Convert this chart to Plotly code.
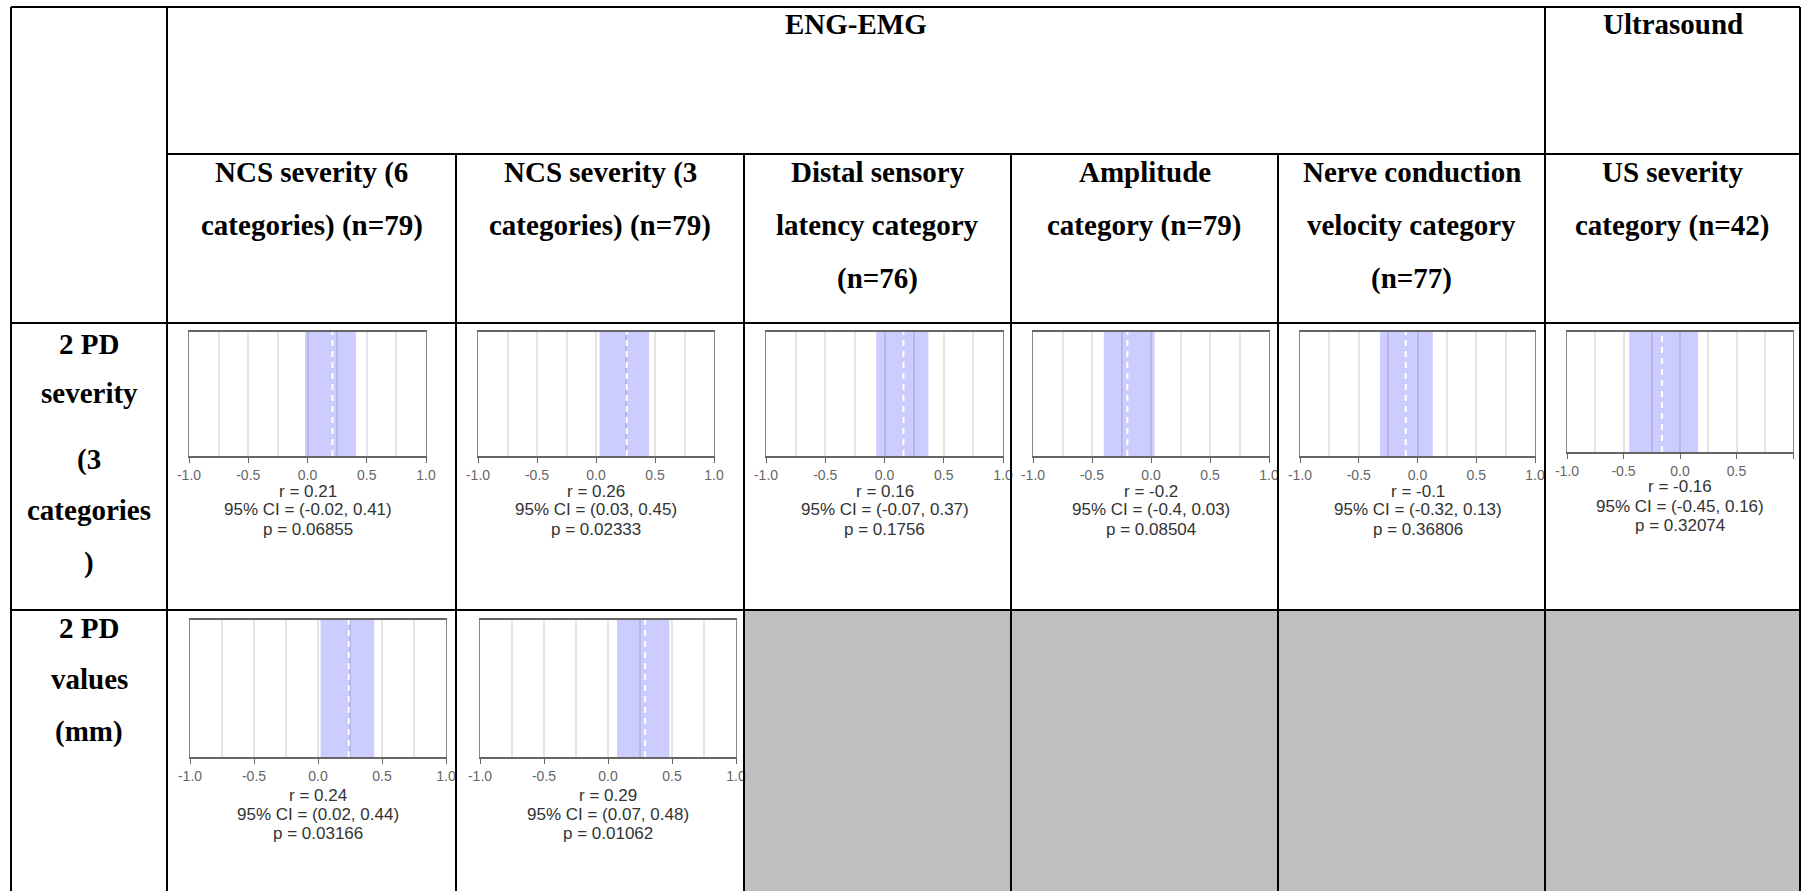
import plotly.graph_objects as go

W, H = 1802, 891

# --- data -------------------------------------------------------------
group_headers = ["ENG-EMG", "Ultrasound"]
col_headers = [
    ["NCS severity (6", "categories) (n=79)"],
    ["NCS severity (3", "categories) (n=79)"],
    ["Distal sensory", "latency category", "(n=76)"],
    ["Amplitude", "category (n=79)"],
    ["Nerve conduction", "velocity category", "(n=77)"],
    ["US severity", "category (n=42)"],
]
row_headers = [
    ["2 PD", "severity", "(3", "categories", ")"],
    ["2 PD", "values", "(mm)"],
]

# row 1: 2 PD severity vs each column
r_sev = [0.21, 0.26, 0.16, -0.2, -0.1, -0.16]
lo_sev = [-0.02, 0.03, -0.07, -0.4, -0.32, -0.45]
hi_sev = [0.41, 0.45, 0.37, 0.03, 0.13, 0.16]
p_sev = [0.06855, 0.02333, 0.1756, 0.08504, 0.36806, 0.32074]

# row 2: 2 PD values, only first two columns
r_val = [0.24, 0.29]
lo_val = [0.02, 0.07]
hi_val = [0.44, 0.48]
p_val = [0.03166, 0.01062]

tick_vals = [-1, -0.5, 0, 0.5, 1]
tick_text = ["-1.0", "-0.5", "0.0", "0.5", "1.0"]
minor_vals = [-0.75, -0.25, 0.25, 0.75]

# --- table geometry (pixels) ------------------------------------------
col_x = [11, 167, 456, 744, 1011, 1278, 1545, 1800]
row_y = [7, 154, 323, 610, 891]


def px(x):
    return x / W


def py(y):
    return 1 - y / H


# chart boxes: (x0, x1, y0, y1, text line ys)
boxes_sev = [
    (189, 426, 332, 456, [491, 510, 529]),
    (478, 714, 332, 456, [491, 510, 529]),
    (766, 1003, 332, 456, [491, 510, 529]),
    (1033, 1269, 332, 456, [491, 510, 529]),
    (1300, 1535, 332, 456, [491, 510, 529]),
    (1567, 1793, 332, 452, [487, 506, 525]),
]
boxes_val = [
    (190, 446, 620, 757, [795, 814, 833]),
    (480, 736, 620, 757, [795, 814, 833]),
]

fig = go.Figure()
annotations = []
layout_axes = {}

charts = []
for i in range(len(r_sev)):
    charts.append((boxes_sev[i], r_sev[i], lo_sev[i], hi_sev[i], p_sev[i]))
for i in range(len(r_val)):
    charts.append((boxes_val[i], r_val[i], lo_val[i], hi_val[i], p_val[i]))

for k, (box, r, lo, hi, p) in enumerate(charts, start=1):
    x0, x1, y0, y1, text_ys = box
    xa = "x" if k == 1 else f"x{k}"
    ya = "y" if k == 1 else f"y{k}"

    fig.add_trace(go.Scatter(
        x=[lo, hi, hi, lo, lo], y=[0, 0, 1, 1, 0],
        fill="toself", fillcolor="rgba(0,0,255,0.2)",
        line=dict(width=0), mode="lines",
        xaxis=xa, yaxis=ya, hoverinfo="skip",
    ))
    fig.add_trace(go.Scatter(
        x=[r, r], y=[0, 1], mode="lines",
        line=dict(color="white", width=2, dash="6px,5px"),
        xaxis=xa, yaxis=ya, hoverinfo="skip",
    ))

    layout_axes["xaxis" if k == 1 else f"xaxis{k}"] = dict(
        domain=[px(x0), px(x1)], anchor=ya, range=[-1, 1],
        automargin=False,
        tickvals=tick_vals, ticktext=tick_text,
        ticks="outside", ticklen=5, tickcolor="#666",
        tickfont=dict(family="Liberation Sans", size=14, color="#666"),
        showline=True, linecolor="#666", linewidth=1.5, mirror=True,
        showgrid=True, gridcolor="#e4e4e4", gridwidth=1.5, zeroline=False,
        minor=dict(tickvals=minor_vals, showgrid=True, gridcolor="#e4e4e4",
                   gridwidth=1.5, ticks=""),
    )
    layout_axes["yaxis" if k == 1 else f"yaxis{k}"] = dict(
        domain=[py(y1), py(y0)], anchor=xa, range=[0, 1],
        automargin=False,
        showticklabels=False, showgrid=False, zeroline=False, ticks="",
        showline=True, linecolor="#888", linewidth=1, mirror=True,
    )

    lines = [f"r = {r}", f"95% CI = ({lo}, {hi})", f"p = {p}"]
    for txt, ty in zip(lines, text_ys):
        annotations.append(dict(
            x=px((x0 + x1) / 2), y=py(ty), xref="paper", yref="paper",
            text=txt, showarrow=False, xanchor="center", yanchor="middle",
            borderpad=0,
            font=dict(family="Liberation Sans", size=17, color="#333"),
        ))

# --- header texts --------------------------------------------------------
hfont = dict(family="Liberation Serif", size=29, color="black")


def header(txt, cx, cy):
    return dict(x=px(cx), y=py(cy), xref="paper", yref="paper",
                text=f"<b>{txt}</b>", showarrow=False,
                xanchor="center", yanchor="middle", font=hfont)


annotations.append(header(group_headers[0], (col_x[1] + col_x[6]) / 2, 24))
annotations.append(header(group_headers[1], (col_x[6] + col_x[7]) / 2, 24))

sub_ys = [172, 225, 278]
for c, lines in enumerate(col_headers):
    cx = (col_x[c + 1] + col_x[c + 2]) / 2
    for txt, ty in zip(lines, sub_ys):
        annotations.append(header(txt, cx, ty))

row_ys = [[344, 393, 459, 510, 562], [628, 679, 731]]
for lines, ys in zip(row_headers, row_ys):
    for txt, ty in zip(lines, ys):
        annotations.append(header(txt, (col_x[0] + col_x[1]) / 2, ty))

# --- table lines ----------------------------------------------------------
shapes = [dict(
    type="rect", xref="paper", yref="paper",
    x0=px(col_x[3]), x1=px(col_x[7]), y0=py(row_y[3]), y1=py(row_y[4]),
    fillcolor="#bfbfbf", line=dict(width=0), layer="below",
)]


def hline(y, xa, xb):
    return dict(type="line", xref="paper", yref="paper",
                x0=px(xa), x1=px(xb), y0=py(y), y1=py(y),
                line=dict(color="black", width=2), layer="above")


def vline(x, ya, yb):
    return dict(type="line", xref="paper", yref="paper",
                x0=px(x), x1=px(x), y0=py(ya), y1=py(yb),
                line=dict(color="black", width=2), layer="above")


shapes.append(hline(row_y[0], col_x[0], col_x[7]))
shapes.append(hline(row_y[1], col_x[1], col_x[7]))
shapes.append(hline(row_y[2], col_x[0], col_x[7]))
shapes.append(hline(row_y[3], col_x[0], col_x[7]))
for x in [col_x[0], col_x[1], col_x[6], col_x[7]]:
    shapes.append(vline(x, row_y[0], row_y[4]))
for x in col_x[2:6]:
    shapes.append(vline(x, row_y[1], row_y[4]))

fig.update_layout(
    width=W, height=H,
    margin=dict(l=0, r=0, t=0, b=0, pad=0),
    paper_bgcolor="white", plot_bgcolor="white",
    showlegend=False,
    annotations=annotations,
    shapes=shapes,
    **layout_axes,
)

# page has a default body margin; drop it so the figure sits at the window corner
fig.write_html("out.html", config={"displayModeBar": False},
               post_script="document.body.style.margin = '0';")
